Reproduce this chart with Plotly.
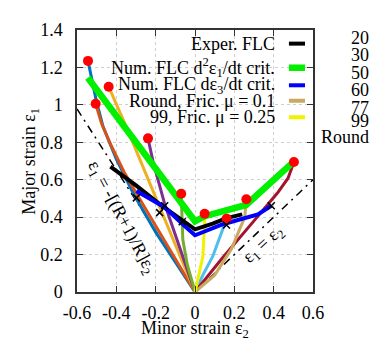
import plotly.graph_objects as go

FONT = "Times New Roman, Liberation Serif, serif"
FS = 18

x_ticks = [-0.6, -0.4, -0.2, 0, 0.2, 0.4, 0.6]
x_ticklabels = ["-0.6", "-0.4", "-0.2", "0", "0.2", "0.4", "0.6"]
y_ticks = [0, 0.2, 0.4, 0.6, 0.8, 1.0, 1.2, 1.4]
y_ticklabels = ["0", "0.2", "0.4", "0.6", "0.8", "1", "1.2", "1.4"]

# reference lines
uni_e2 = [-0.6, 0.0]
uni_e1 = [0.978, 0.0]
equi_e2 = [0.0, 0.6]
equi_e1 = [0.0, 0.6]

# strain paths (minor e2, major e1)
p20_e2 = [0, -0.2, -0.31, -0.40, -0.468, -0.502, -0.544]
p20_e1 = [0, 0.32, 0.52, 0.71, 0.885, 1.023, 1.235]
p30_e2 = [0, -0.2, -0.30, -0.36, -0.434, -0.475, -0.505]
p30_e1 = [0, 0.35, 0.53, 0.64, 0.80, 0.90, 1.006]
p50_e2 = [0, -0.256, -0.34, -0.439]
p50_e1 = [0, 0.643, 0.86, 1.097]
p60_e2 = [0, -0.154, -0.213, -0.239]
p60_e1 = [0, 0.47, 0.695, 0.821]
p77_e2 = [0, -0.04, -0.062, -0.068, -0.07]
p77_e1 = [0, 0.15, 0.28, 0.42, 0.525]
p99_e2 = [0, 0.04, 0.09, 0.142, 0.161]
p99_e1 = [0, 0.09, 0.19, 0.33, 0.392]
pround_e2 = [0, 0.134, 0.303, 0.42, 0.473, 0.503]
pround_e1 = [0, 0.175, 0.384, 0.53, 0.608, 0.695]
pr01_e2 = [0, 0.1, 0.185, 0.253, 0.261]
pr01_e1 = [0, 0.09, 0.23, 0.40, 0.496]
p99f_e2 = [0, 0.015, 0.04, 0.049, 0.049]
p99f_e1 = [0, 0.07, 0.19, 0.37, 0.418]

# forming limit curves
exp_e2 = [-0.43, -0.30, -0.18, -0.07, 0.0, 0.09, 0.16, 0.24]
exp_e1 = [0.67, 0.57, 0.47, 0.39, 0.335, 0.365, 0.395, 0.415]
exp_pts_e2 = [-0.298, -0.18, -0.154, -0.065, 0.16, 0.388]
exp_pts_e1 = [0.503, 0.424, 0.461, 0.375, 0.358, 0.461]
d3_e2 = [-0.298, -0.154, -0.061, 0.0, 0.142, 0.32, 0.388]
d3_e1 = [0.54, 0.453, 0.36, 0.303, 0.362, 0.415, 0.461]
d2_e2 = [-0.545, -0.07, 0.0, 0.049, 0.26, 0.495]
d2_e1 = [1.145, 0.475, 0.378, 0.405, 0.465, 0.69]

C20, C30, C50, C60, C77, C99, CRD = "#0072BD", "#D95319", "#EDB120", "#7E2F8E", "#77AC30", "#4DBEEE", "#A2142F"
CTAN, CYEL, CGRN, CBLU = "#C8AA60", "#F2F200", "#00F000", "#0000FF"

fig = go.Figure()
dd = "8px,5px,2px,5px"
for xs, ys in [(uni_e2, uni_e1), (equi_e2, equi_e1)]:
    fig.add_trace(go.Scatter(x=xs, y=ys, mode="lines", line=dict(color="black", width=1.5, dash=dd), showlegend=False))

paths = [
    (p20_e2, p20_e1, C20), (p30_e2, p30_e1, C30), (p50_e2, p50_e1, C50),
    (p60_e2, p60_e1, C60), (p77_e2, p77_e1, C77), (p99_e2, p99_e1, C99),
    (pround_e2, pround_e1, CRD), (pr01_e2, pr01_e1, CTAN), (p99f_e2, p99f_e1, CYEL),
]
for xs, ys, c in paths:
    fig.add_trace(go.Scatter(x=xs, y=ys, mode="lines", line=dict(color=c, width=3), showlegend=False))

fig.add_trace(go.Scatter(x=exp_e2, y=exp_e1, mode="lines", line=dict(color="black", width=4), showlegend=False))
fig.add_trace(go.Scatter(x=d3_e2, y=d3_e1, mode="lines", line=dict(color=CBLU, width=4), showlegend=False))
fig.add_trace(go.Scatter(x=d2_e2, y=d2_e1, mode="lines", line=dict(color=CGRN, width=6.5), showlegend=False))

fig.add_trace(go.Scatter(x=[p[0][-1] for p in paths], y=[p[1][-1] for p in paths], mode="markers",
                         marker=dict(color="#FF0000", size=10), showlegend=False))
fig.add_trace(go.Scatter(x=exp_pts_e2, y=exp_pts_e1, mode="markers",
                         marker=dict(symbol="x-thin", color="black", size=7, line=dict(color="black", width=1.5)),
                         showlegend=False))

axis_common = dict(showline=True, linecolor="#333", linewidth=1.5, mirror="ticks", ticks="inside",
                   ticklen=6, tickcolor="#333", tickwidth=1.2, showgrid=True, gridcolor="#cfcfcf",
                   griddash="dot", gridwidth=1, zeroline=False,
                   tickfont=dict(family=FONT, size=FS, color="black"))
fig.update_xaxes(range=[-0.6, 0.6], tickvals=x_ticks, ticktext=x_ticklabels, ticklabelstandoff=4, **axis_common)
fig.update_yaxes(range=[0, 1.4], tickvals=y_ticks, ticktext=y_ticklabels, ticklabelstandoff=9, **axis_common)

ann = []
shapes = []
# inner legend
inner = [
    ("Exper. FLC", "black", 0.948, 4),
    ("Num. FLC d<sup>2</sup>ε<sub>1</sub>/dt crit.", CGRN, 0.856, 6.5),
    ("Num. FLC dε<sub>3</sub>/dt crit.", CBLU, 0.789, 4),
    ("Round, Fric. μ = 0.1", CTAN, 0.730, 4),
    ("99, Fric. μ = 0.25", CYEL, 0.667, 4),
]
for txt, c, yy, w in inner:
    ann.append(dict(x=0.843, y=yy, xref="paper", yref="paper", text=txt, showarrow=False,
                    xanchor="right", yanchor="middle", font=dict(family=FONT, size=FS, color="black"),
                    borderpad=0))
    shapes.append(dict(type="line", xref="paper", yref="paper", x0=0.898, x1=0.966, y0=yy, y1=yy,
                       line=dict(color=c, width=w)))
outer = [
    ("20", C20, 0.971), ("30", C30, 0.904), ("50", C50, 0.836), ("60", C60, 0.770),
    ("77", C77, 0.702), ("99", C99, 0.652), ("Round", CRD, 0.593),
]
for txt, c, yy in outer:
    ann.append(dict(x=1.2415, y=yy, xref="paper", yref="paper", text=txt, showarrow=False,
                    xanchor="right", yanchor="middle", font=dict(family=FONT, size=FS, color="black"),
                    borderpad=0))
    shapes.append(dict(type="line", xref="paper", yref="paper", x0=1.284, x1=1.40, y0=yy, y1=yy,
                       line=dict(color=c, width=3)))

ann.append(dict(x=-0.375, y=0.40, xref="x", yref="y", text="ε<sub>1</sub> = -[(R+1)/R]ε<sub>2</sub>",
                showarrow=False, textangle=62, font=dict(family=FONT, size=FS, color="black")))
ann.append(dict(x=0.35, y=0.254, xref="x", yref="y", text="ε<sub>1</sub> = ε<sub>2</sub>",
                showarrow=False, textangle=-42, font=dict(family=FONT, size=FS, color="black")))
# axis titles
ann.append(dict(x=-0.2, y=0.5, xref="paper", yref="paper", text="Major strain ε<sub>1</sub>", showarrow=False,
                textangle=-90, xanchor="center", yanchor="middle", font=dict(family=FONT, size=FS, color="black")))
ann.append(dict(x=0.5, y=-0.143, xref="paper", yref="paper", text="Minor strain ε<sub>2</sub>", showarrow=False,
                xanchor="center", yanchor="middle", font=dict(family=FONT, size=FS, color="black")))

fig.update_layout(width=385, height=340, margin=dict(l=69, r=80, t=14, b=56, pad=0),
                  paper_bgcolor="white", plot_bgcolor="white", annotations=ann, shapes=shapes,
                  showlegend=False)
fig.write_html("out.html")
